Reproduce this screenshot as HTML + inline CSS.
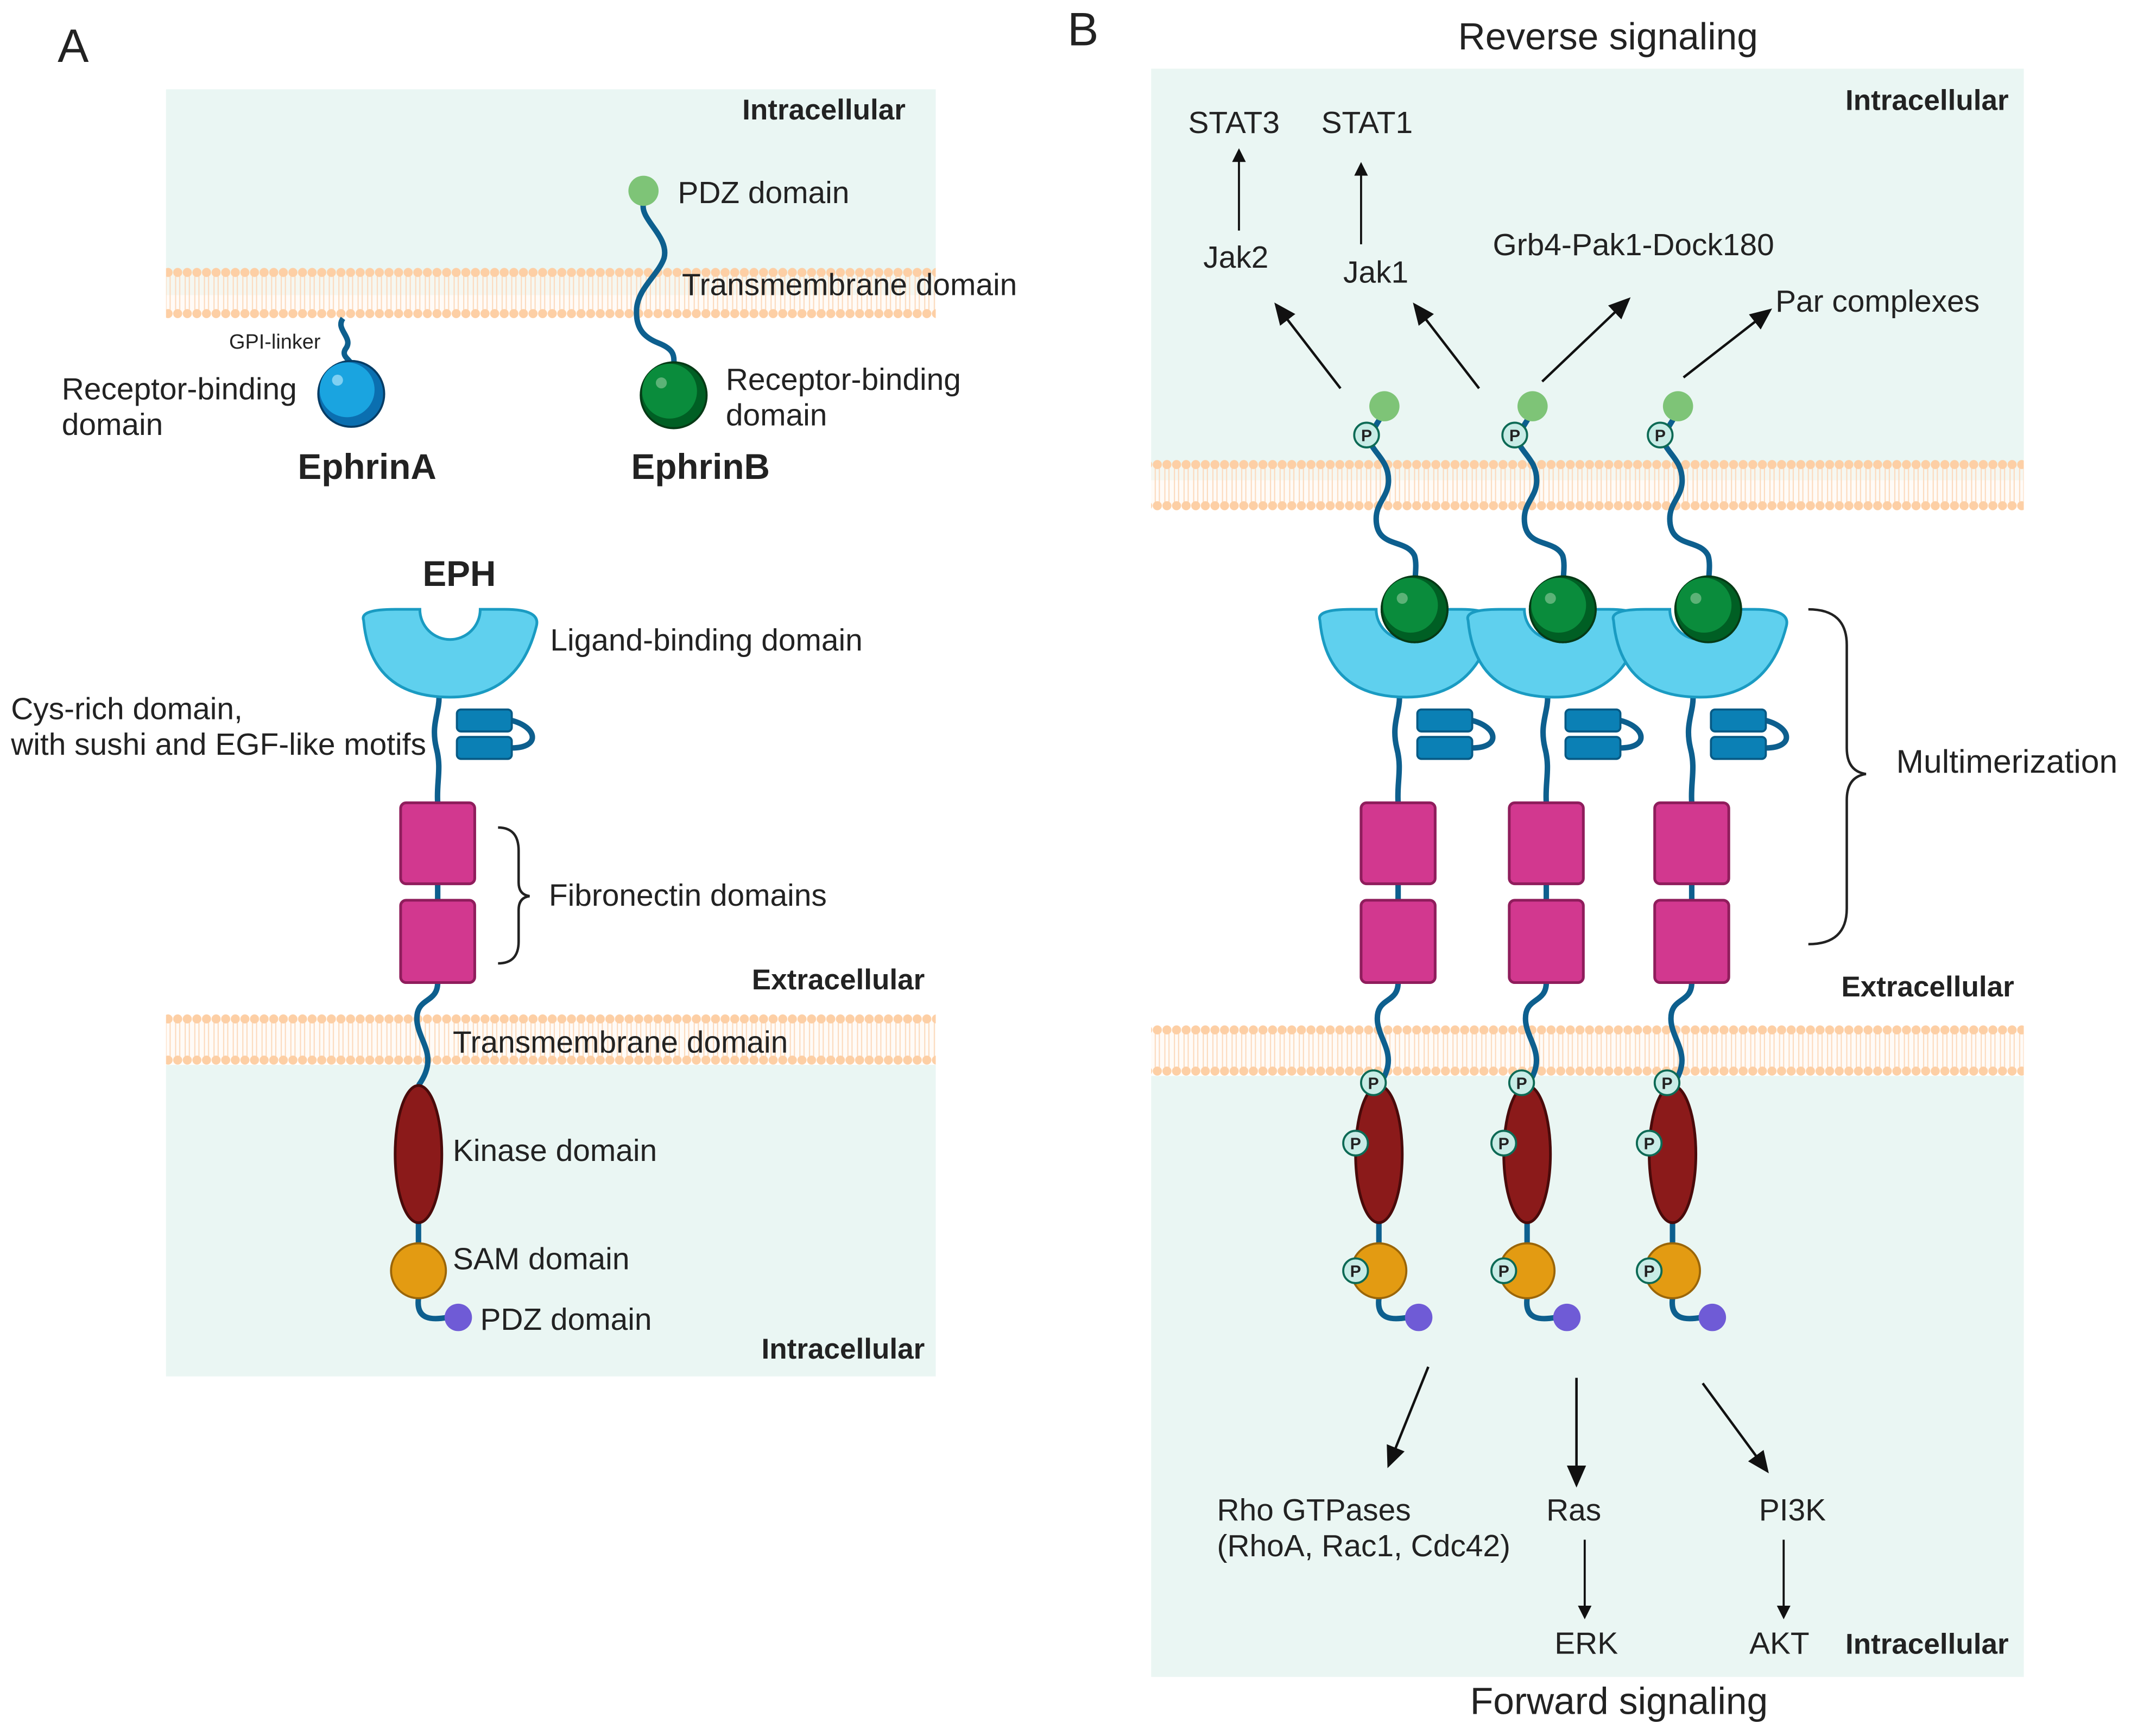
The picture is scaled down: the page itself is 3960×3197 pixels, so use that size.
<!DOCTYPE html>
<html><head><meta charset="utf-8"><style>
html,body{margin:0;padding:0;background:#fff;}
svg{display:block;}
text{font-family:"Liberation Sans",sans-serif;fill:#222;}
.t{font-size:22.5px;}
.b{font-size:21px;font-weight:bold;}
</style></head><body>
<svg width="3960" height="3197" viewBox="0 0 1567 1265" xmlns="http://www.w3.org/2000/svg">
<defs>
<pattern id="mem" width="7" height="40" patternUnits="userSpaceOnUse">
<rect x="0" y="4" width="7" height="30" fill="#fff7f0" opacity="0.5"/>
<line x1="2" y1="5" x2="2" y2="32" stroke="#fcd9bb" stroke-width="0.8"/>
<line x1="5" y1="5" x2="5" y2="32" stroke="#fcd9bb" stroke-width="0.8"/>
<circle cx="3.5" cy="3.5" r="3.3" fill="#fdcfa5"/>
<circle cx="3.5" cy="33.5" r="3.3" fill="#fdcfa5"/>
</pattern>
<marker id="ar" markerWidth="10" markerHeight="10" refX="8" refY="5" orient="auto" markerUnits="userSpaceOnUse"><path d="M0,0 L10,5 L0,10 z" fill="#111"/></marker>
<marker id="ar2" markerWidth="16" markerHeight="16" refX="14" refY="8" orient="auto" markerUnits="userSpaceOnUse"><path d="M0,1 L16,8 L0,15 z" fill="#111"/></marker>
<g id="eph">
<path d="M320,508 C320,520 314,528 318,545 C322,560 318,570 319,585" fill="none" stroke="#0d5f8e" stroke-width="4"/>
<path d="M373,525 C392,530 394,545 373,545" fill="none" stroke="#0d5f8e" stroke-width="4"/>
<path d="M319,644 L319,656" stroke="#0d5f8e" stroke-width="4"/>
<path d="M319,716 C319,732 302,726 304,745 C306,760 320,770 305,791" fill="none" stroke="#0d5f8e" stroke-width="4"/>
<path d="M305,890 L305,906" stroke="#0d5f8e" stroke-width="4"/>
<path d="M305,946 C303,962 315,962 326,960" fill="none" stroke="#0d5f8e" stroke-width="4"/>
<rect x="333" y="517" width="40" height="16" rx="3" fill="#0b80b5" stroke="#075a85" stroke-width="1.5"/>
<rect x="333" y="537" width="40" height="16" rx="3" fill="#0b80b5" stroke="#075a85" stroke-width="1.5"/>
<rect x="292" y="585" width="54" height="59" rx="4" fill="#d2388f" stroke="#8f1d5c" stroke-width="2"/>
<rect x="292" y="656" width="54" height="60" rx="4" fill="#d2388f" stroke="#8f1d5c" stroke-width="2"/>
<ellipse cx="305" cy="841" rx="17" ry="50" fill="#8b1a1a" stroke="#4a0a0a" stroke-width="2"/>
<circle cx="305" cy="926" r="20" fill="#e39b12" stroke="#9a6508" stroke-width="1.5"/>
<circle cx="334" cy="960" r="10" fill="#6f5bd6"/>
</g>
<path id="cup" d="M-63,452 Q-66,444 -40,444 L-22,444 A22,22 0 0 0 22,444 L40,444 Q66,444 63,456 Q50,508 0,508 Q-58,508 -63,452 Z" fill="#5fd0ee" stroke="#1a9bc2" stroke-width="2"/>
<g id="pb">
<circle r="9" fill="#c8ece6" stroke="#0d6a55" stroke-width="1.5"/>
<text x="0" y="4.5" text-anchor="middle" style="font-size:12px;font-weight:bold">P</text>
</g>
<g id="lig">
<path d="M1009,300 C1003,310 996,318 1000,325 C1005,333 1012,338 1012,350 C1012,362 1003,366 1003,378 C1003,400 1025,392 1031,405 C1033,412 1031,420 1031,432" fill="none" stroke="#0d5f8e" stroke-width="4"/>
<ellipse cx="1009" cy="296" rx="11" ry="11" fill="#7ec477"/>
<use href="#pb" x="996" y="317"/>
</g>
<g id="gball">
<circle cx="1031" cy="444" r="24" fill="#005f24" stroke="#063a16" stroke-width="1.5"/>
<circle cx="1028" cy="441" r="20" fill="#0a8c3c"/>
<circle cx="1022" cy="436" r="4" fill="#5cb277"/>
</g>
</defs>

<text x="42" y="45" style="font-size:34px">A</text>
<rect x="121" y="65" width="561" height="150" fill="#eaf6f3"/>
<g transform="translate(0,195)"><rect x="121" y="0" width="561" height="38" fill="url(#mem)"/></g>
<text x="660" y="87" text-anchor="end" class="b">Intracellular</text>

<path d="M250,232 C244,240 258,246 252,254 C248,260 256,262 256,266" fill="none" stroke="#0d5f8e" stroke-width="4"/>
<circle cx="256" cy="287" r="24" fill="#0b6fb0" stroke="#063d66" stroke-width="1.5"/>
<circle cx="253" cy="284" r="20" fill="#1aa4e0"/>
<circle cx="246" cy="277" r="4" fill="#7fd0f2"/>
<text x="167" y="254" style="font-size:15px">GPI-linker</text>
<text x="45" y="291" class="t">Receptor-binding</text>
<text x="45" y="317" class="t">domain</text>
<text x="217" y="349" style="font-size:26px;font-weight:bold">EphrinA</text>

<path d="M469,148 C466,160 488,172 484,188 C480,200 465,210 464,225 C463,240 470,246 480,250 C490,254 492,258 491,266" fill="none" stroke="#0d5f8e" stroke-width="4"/>
<circle cx="469" cy="139" r="11" fill="#7ec477"/>
<circle cx="491" cy="288" r="24" fill="#005f24" stroke="#063a16" stroke-width="1.5"/>
<circle cx="488" cy="285" r="20" fill="#0a8c3c"/>
<circle cx="482" cy="279" r="4" fill="#5cb277"/>
<text x="494" y="148" class="t">PDZ domain</text>
<text x="497" y="215" class="t">Transmembrane domain</text>
<text x="529" y="284" class="t">Receptor-binding</text>
<text x="529" y="310" class="t">domain</text>
<text x="460" y="349" style="font-size:26px;font-weight:bold">EphrinB</text>

<text x="308" y="427" style="font-size:26px;font-weight:bold">EPH</text>
<rect x="121" y="776" width="561" height="227" fill="#eaf6f3"/>
<g transform="translate(0,739)"><rect x="121" y="0" width="561" height="38" fill="url(#mem)"/></g>
<use href="#eph"/>
<use href="#cup" x="328" y="0"/>
<text x="401" y="474" class="t">Ligand-binding domain</text>
<text x="8" y="524" class="t">Cys-rich domain,</text>
<text x="8" y="550" class="t">with sushi and EGF-like motifs</text>
<path d="M363,603 Q378,603 378,620 L378,643 Q378,652 386,653 Q378,654 378,663 L378,686 Q378,702 363,702" fill="none" stroke="#222" stroke-width="1.8"/>
<text x="400" y="660" class="t">Fibronectin domains</text>
<text x="674" y="721" text-anchor="end" class="b">Extracellular</text>
<text x="330" y="767" class="t">Transmembrane domain</text>
<text x="330" y="846" class="t">Kinase domain</text>
<text x="330" y="925" class="t">SAM domain</text>
<text x="350" y="969" class="t">PDZ domain</text>
<text x="674" y="990" text-anchor="end" class="b">Intracellular</text>

<text x="778" y="33" style="font-size:34px">B</text>
<text x="1172" y="36" text-anchor="middle" style="font-size:27.5px">Reverse signaling</text>
<rect x="839" y="50" width="636" height="300" fill="#eaf6f3"/>
<g transform="translate(0,335)"><rect x="839" y="0" width="636" height="38" fill="url(#mem)"/></g>
<rect x="839" y="784" width="636" height="438" fill="#eaf6f3"/>
<g transform="translate(0,747)"><rect x="839" y="0" width="636" height="38" fill="url(#mem)"/></g>
<text x="1464" y="80" text-anchor="end" class="b">Intracellular</text>
<text x="1468" y="726" text-anchor="end" class="b">Extracellular</text>
<text x="1464" y="1205" text-anchor="end" class="b">Intracellular</text>
<text x="1180" y="1249" text-anchor="middle" style="font-size:27.5px">Forward signaling</text>

<g id="unitB">
<use href="#eph" x="700" y="0"/>
<use href="#cup" x="1025" y="0"/>
<use href="#lig"/>
<use href="#gball"/>
<use href="#pb" x="1001" y="789"/>
<use href="#pb" x="988" y="833"/>
<use href="#pb" x="988" y="926"/>
</g>
<use href="#unitB" x="108"/>
<use href="#unitB" x="214"/>
<use href="#gball"/>
<use href="#gball" x="108"/>

<path d="M1318,444 Q1346,444 1346,470 L1346,545 Q1346,562 1360,564 Q1346,566 1346,583 L1346,662 Q1346,688 1318,688" fill="none" stroke="#222" stroke-width="1.8"/>
<text x="1382" y="563" style="font-size:24px">Multimerization</text>

<line x1="977" y1="283" x2="930" y2="222" stroke="#111" stroke-width="1.8" marker-end="url(#ar2)"/>
<line x1="1078" y1="283" x2="1031" y2="222" stroke="#111" stroke-width="1.8" marker-end="url(#ar2)"/>
<line x1="1124" y1="278" x2="1187" y2="218" stroke="#111" stroke-width="1.8" marker-end="url(#ar2)"/>
<line x1="1227" y1="275" x2="1290" y2="226" stroke="#111" stroke-width="1.8" marker-end="url(#ar2)"/>
<line x1="903" y1="168" x2="903" y2="110" stroke="#111" stroke-width="1.5" marker-end="url(#ar)"/>
<line x1="992" y1="178" x2="992" y2="120" stroke="#111" stroke-width="1.5" marker-end="url(#ar)"/>
<text x="866" y="97" class="t">STAT3</text>
<text x="963" y="97" class="t">STAT1</text>
<text x="877" y="195" class="t">Jak2</text>
<text x="979" y="206" class="t">Jak1</text>
<text x="1088" y="186" class="t">Grb4-Pak1-Dock180</text>
<text x="1294" y="227" class="t">Par complexes</text>

<line x1="1041" y1="996" x2="1012" y2="1068" stroke="#111" stroke-width="1.8" marker-end="url(#ar2)"/>
<line x1="1149" y1="1004" x2="1149" y2="1082" stroke="#111" stroke-width="1.8" marker-end="url(#ar2)"/>
<line x1="1241" y1="1008" x2="1288" y2="1072" stroke="#111" stroke-width="1.8" marker-end="url(#ar2)"/>
<line x1="1155" y1="1122" x2="1155" y2="1178" stroke="#111" stroke-width="1.5" marker-end="url(#ar)"/>
<line x1="1300" y1="1122" x2="1300" y2="1178" stroke="#111" stroke-width="1.5" marker-end="url(#ar)"/>
<text x="887" y="1108" class="t">Rho GTPases</text>
<text x="887" y="1134" class="t">(RhoA, Rac1, Cdc42)</text>
<text x="1127" y="1108" class="t">Ras</text>
<text x="1282" y="1108" class="t">PI3K</text>
<text x="1133" y="1205" class="t">ERK</text>
<text x="1275" y="1205" class="t">AKT</text>
</svg>
</body></html>
